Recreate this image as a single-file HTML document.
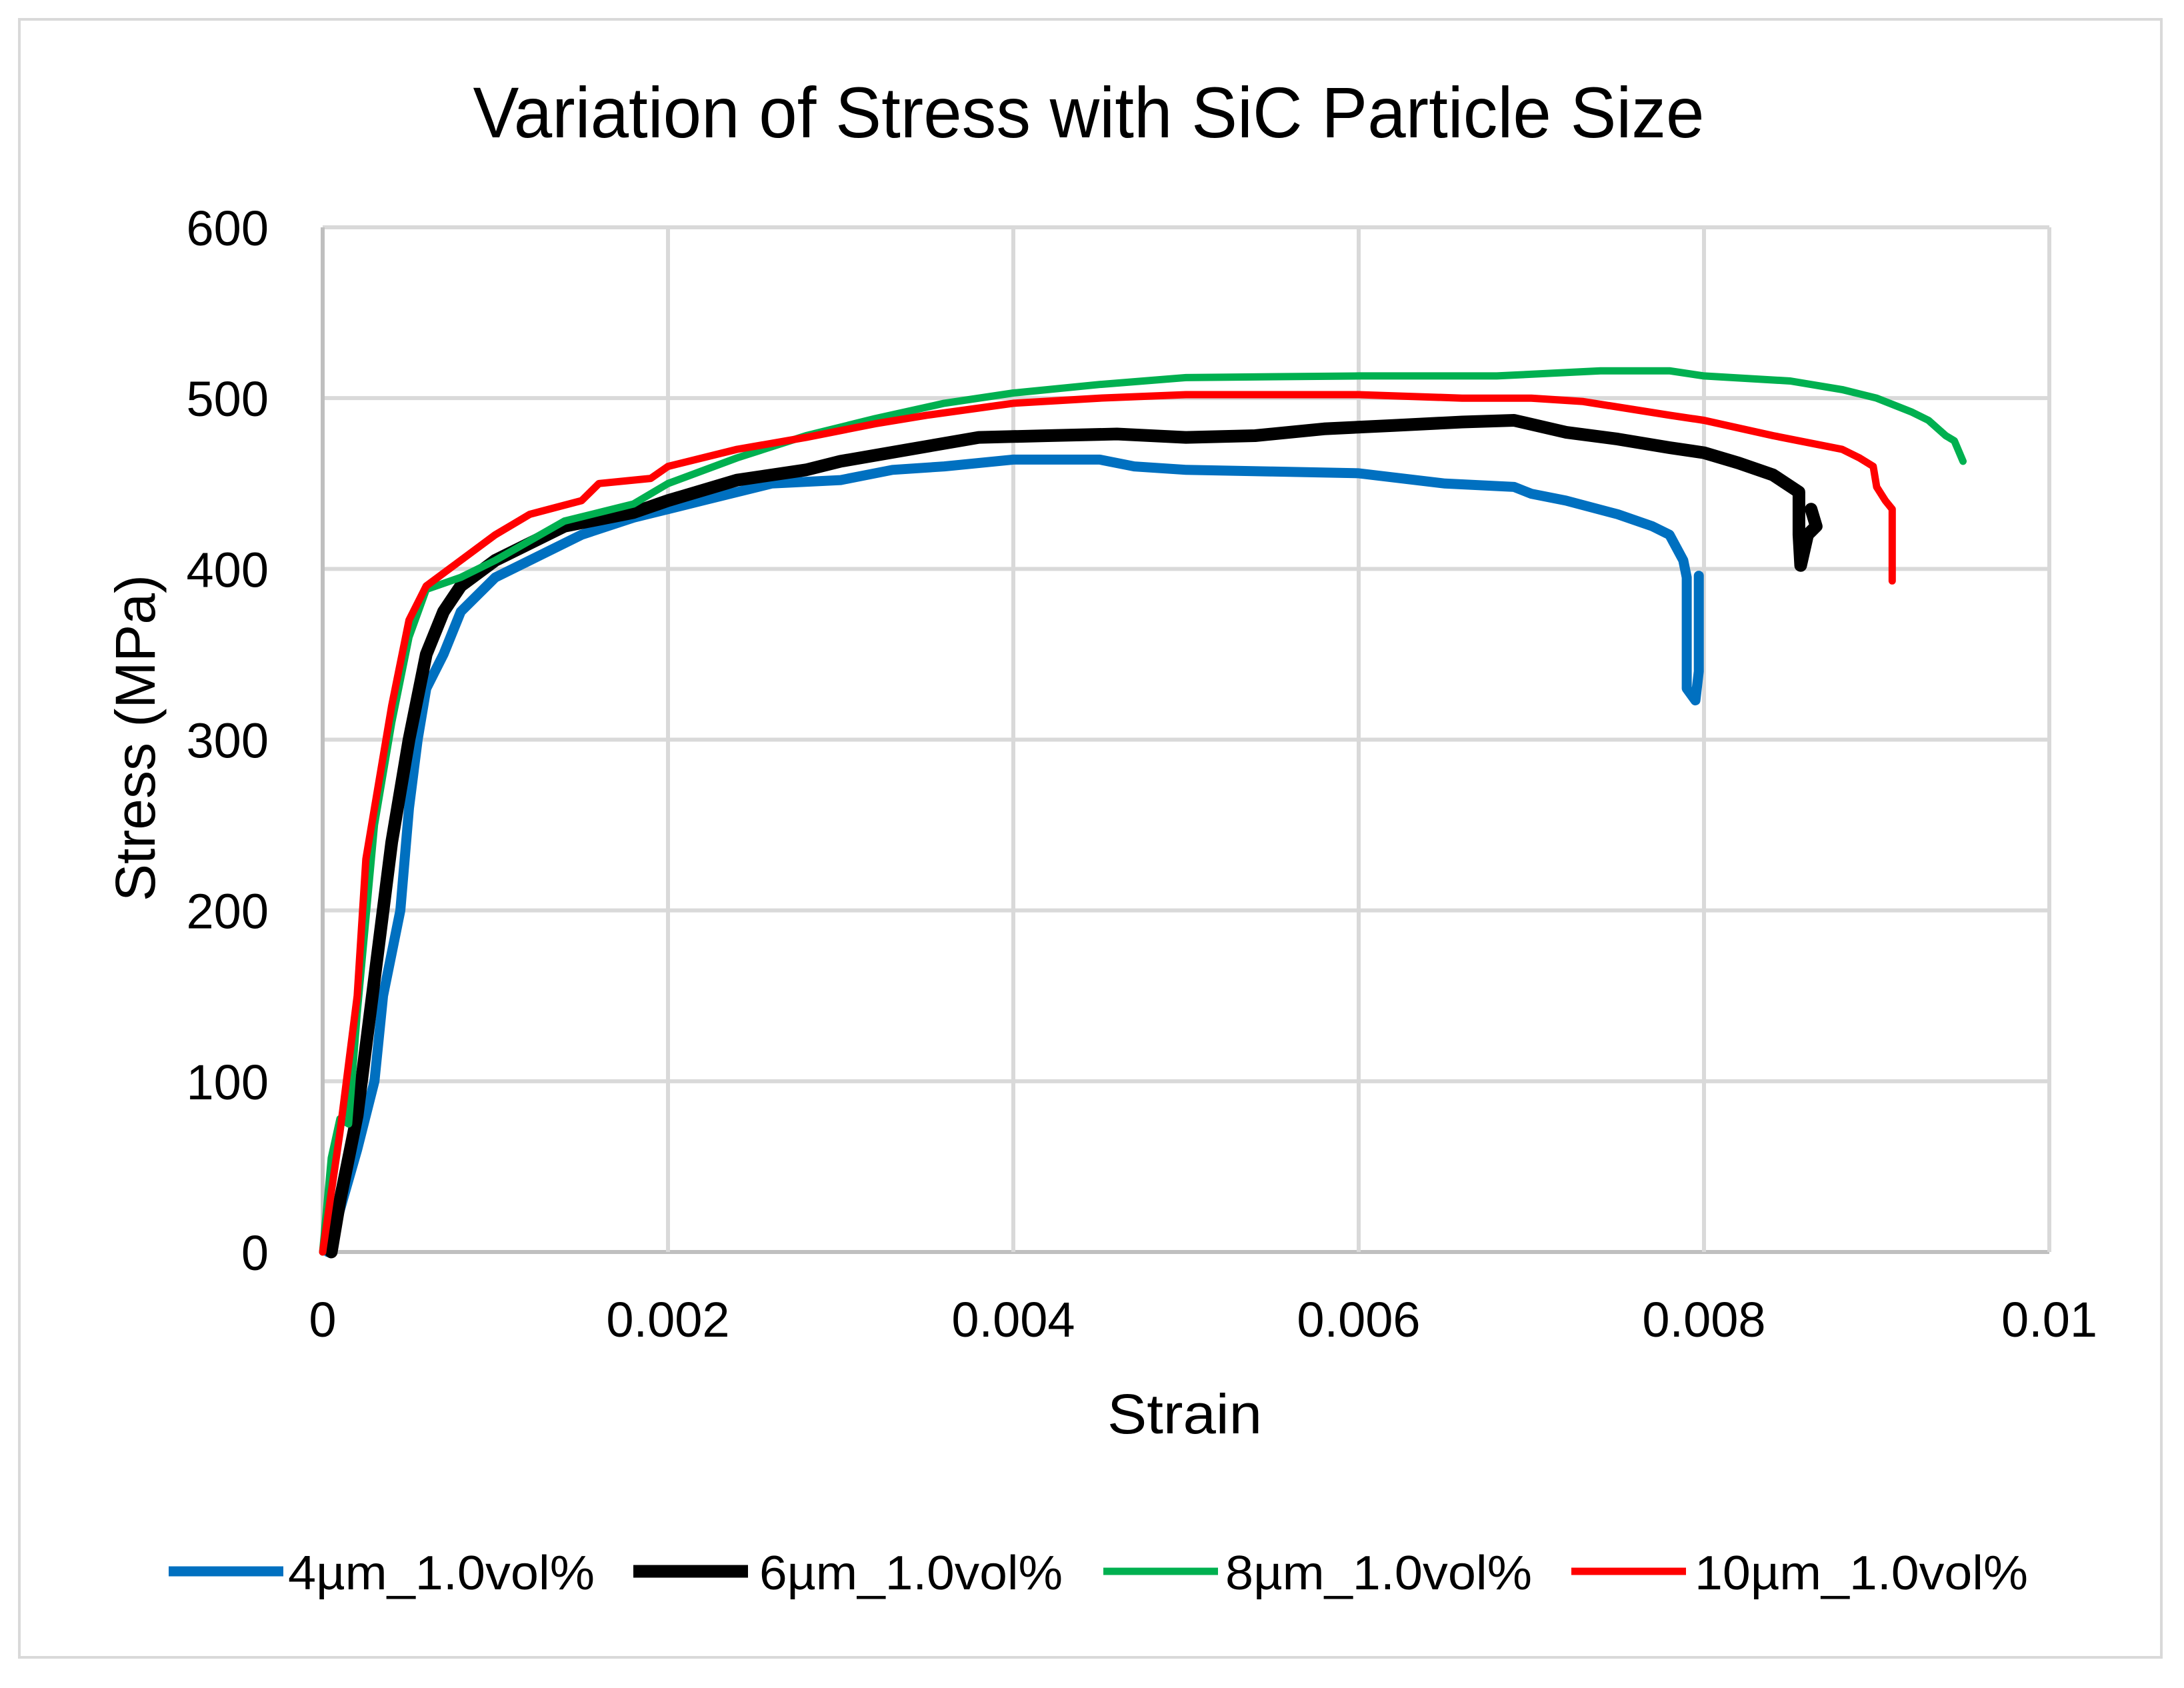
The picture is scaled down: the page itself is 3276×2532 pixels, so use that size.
<!DOCTYPE html>
<html><head><meta charset="utf-8"><style>
html,body{margin:0;padding:0;background:#fff;}
svg{display:block;font-family:"Liberation Sans",sans-serif;}
</style></head><body>
<svg id="chart" width="3276" height="2532" viewBox="0 0 3276 2532" xmlns="http://www.w3.org/2000/svg">
<rect x="29" y="29" width="3213" height="2457" fill="#fff" stroke="#d9d9d9" stroke-width="4"/>
<text x="1633" y="206" font-size="108" text-anchor="middle" textLength="1847" lengthAdjust="spacingAndGlyphs">Variation of Stress with SiC Particle Size</text>
<g id="grid"></g>
<g id="ticks"></g>
<g id="series"></g>
<text x="1777" y="2150" font-size="84" text-anchor="middle" textLength="232" lengthAdjust="spacingAndGlyphs">Strain</text>
<text x="0" y="0" font-size="84" text-anchor="middle" transform="translate(232,1107) rotate(-90)">Stress (MPa)</text>
<g id="legend"></g>
</svg>
<script>
const xTicks=[0,0.002,0.004,0.006,0.008,0.01];
const xTickLabels=["0","0.002","0.004","0.006","0.008","0.01"];
const yTicks=[0,100,200,300,400,500,600];
const yTickLabels=["0","100","200","300","400","500","600"];
const seriesNames=["4µm_1.0vol%","6µm_1.0vol%","8µm_1.0vol%","10µm_1.0vol%"];
const blueStrain=[0.00003,0.0002,0.0003,0.00035,0.00045,0.0005,0.00055,0.0006,0.0007,0.0008,0.001,0.0015,0.0018,0.0022,0.0026,0.003,0.0033,0.0036,0.004,0.0045,0.0047,0.005,0.0055,0.006,0.0065,0.0069,0.007,0.0072,0.0075,0.0077,0.0078,0.00788,0.0079,0.0079,0.00795,0.00797,0.00797];
const blueStress=[0,60,100,150,200,260,300,330,350,375,395,420,430,440,450,452,458,460,464,464,460,458,457,456,450,448,444,440,432,425,420,405,395,330,323,340,396];
const blackStrain=[0.00005,0.0001,0.0002,0.0003,0.0004,0.0005,0.0006,0.0007,0.0008,0.001,0.0014,0.0018,0.002,0.0024,0.0028,0.003,0.0034,0.0038,0.0042,0.0046,0.005,0.0054,0.0058,0.0062,0.0066,0.0069,0.0072,0.0075,0.0078,0.008,0.0082,0.0084,0.00855,0.00855,0.00856,0.0086,0.00865,0.00862];
const blackStress=[0,30,80,160,240,300,350,375,390,405,425,433,440,452,458,463,470,477,478,479,477,478,482,484,486,487,480,476,471,468,462,455,445,420,402,420,425,435];
const greenStrain=[0,0.00005,0.0001,0.00015,0.0002,0.0003,0.0004,0.0005,0.0006,0.0008,0.001,0.0014,0.0018,0.002,0.0024,0.0028,0.0032,0.0036,0.004,0.0045,0.005,0.006,0.0068,0.0074,0.0078,0.008,0.0085,0.0088,0.009,0.0092,0.0093,0.0094,0.00945,0.0095];
const greenStress=[0,55,78,75,140,250,310,360,388,395,405,428,438,450,465,478,488,497,503,508,512,513,513,516,516,513,510,505,500,492,487,478,475,463];
const redStrain=[0,0.0001,0.0002,0.00025,0.0003,0.0004,0.0005,0.0006,0.0008,0.001,0.0012,0.0015,0.0016,0.0019,0.002,0.0024,0.0028,0.0032,0.0035,0.004,0.0045,0.005,0.006,0.0066,0.007,0.0073,0.0078,0.008,0.0084,0.0088,0.0089,0.00898,0.009,0.00905,0.00909,0.00909];
const redStress=[0,70,150,230,260,320,370,390,405,420,432,440,450,453,460,470,477,485,490,497,500,502,502,500,500,498,490,487,478,470,465,460,448,440,435,393];
const colors=["#0070c0","#000000","#00b050","#ff0000"];
const widths=[15,19,11,11];
const NS="http://www.w3.org/2000/svg";
const X0=484,X1=3074,Y0=1878,Y1=341;
function sx(v){return X0+(v-0)/(0.01-0)*(X1-X0);}
function sy(v){return Y0-(v-0)/(600-0)*(Y0-Y1);}
function mk(tag,attrs,parent){const e=document.createElementNS(NS,tag);for(const k in attrs)e.setAttribute(k,attrs[k]);parent.appendChild(e);return e;}
const grid=document.getElementById('grid'),ticks=document.getElementById('ticks'),series=document.getElementById('series'),legend=document.getElementById('legend');
yTicks.forEach((t,i)=>{
  const l=mk('line',{x1:X0,x2:X1,y1:sy(t),y2:sy(t),stroke:i===0?'#bfbfbf':'#d9d9d9','stroke-width':6},grid);
  
  
  const tx=mk('text',{x:403,y:sy(t)+27,'font-size':74,'text-anchor':'end'},ticks);
  tx.textContent=yTickLabels[i];
  
  
});
xTicks.forEach((t,i)=>{
  const l=mk('line',{x1:sx(t),x2:sx(t),y1:Y1,y2:Y0,stroke:i===0?'#bfbfbf':'#d9d9d9','stroke-width':6},grid);
  
  
  const tx=mk('text',{x:sx(t),y:2005,'font-size':74,'text-anchor':'middle'},ticks);
  tx.textContent=xTickLabels[i];
  
  
});
const allX=[blueStrain,blackStrain,greenStrain,redStrain],allY=[blueStress,blackStress,greenStress,redStress];
[0,1,2,3].forEach(s=>{
  const d=allX[s].map((v,i)=>(i?'L':'M')+sx(v).toFixed(1)+','+sy(allY[s][i]).toFixed(1)).join(' ');
  const p=mk('path',{d:d,fill:'none',stroke:colors[s],'stroke-width':widths[s],'stroke-linejoin':'round','stroke-linecap':'round'},series);
  
  
});
const legX=[253,950,1655,2357],legTX=[432,1139,1838,2542],legW=[460,455,460,500];
seriesNames.forEach((n,i)=>{
  const l=mk('line',{x1:legX[i],x2:legX[i]+172,y1:2357,y2:2357,stroke:colors[i],'stroke-width':widths[i]},legend);
  
  
  const t=mk('text',{x:legTX[i],y:2384,'font-size':72,textLength:legW[i],lengthAdjust:'spacingAndGlyphs'},legend);
  t.textContent=n;
  
  
});
</script>
</body></html>
